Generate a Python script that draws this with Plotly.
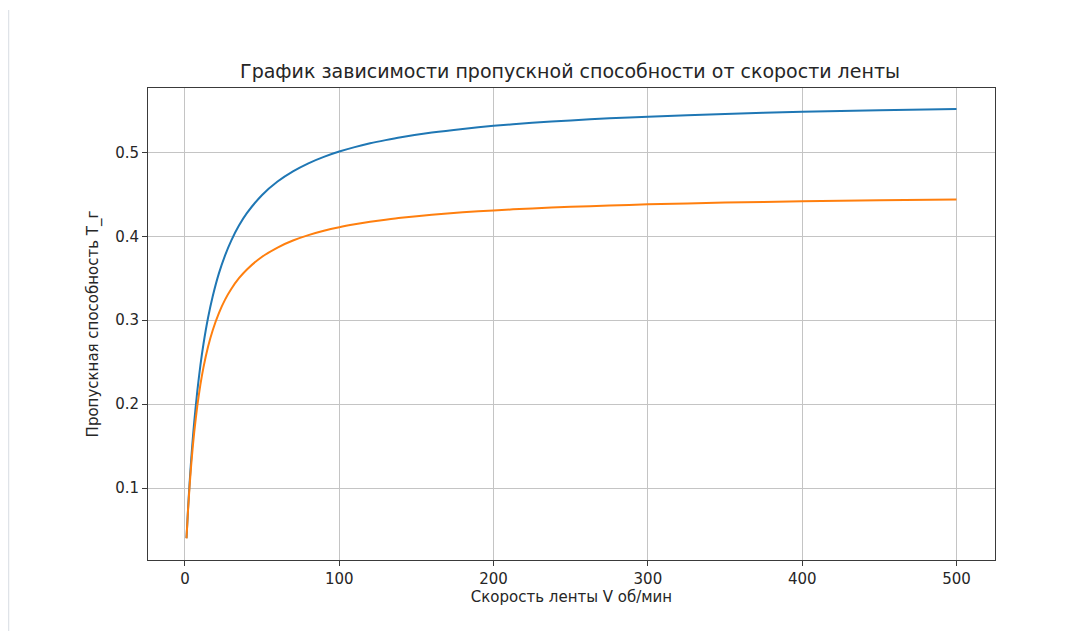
import plotly.graph_objects as go

# Belt speed V (rev/min) and throughput T_г
speed = [1, 2, 3, 4, 5, 6, 8, 10, 12, 15, 18, 22, 26, 30, 35, 40, 50, 60, 70, 80, 90,
         100, 110, 120, 130, 140, 160, 180, 200, 225, 250, 275, 300, 350, 400, 450, 500]
throughput_blue = [0.0404, 0.0755, 0.1061, 0.1332, 0.1572, 0.1787, 0.2156, 0.2461, 0.2717,
                   0.3032, 0.3286, 0.3558, 0.3773, 0.3949, 0.4127, 0.4272, 0.4492, 0.4652,
                   0.4773, 0.4869, 0.4946, 0.5009, 0.5062, 0.5107, 0.5145, 0.5179, 0.5235,
                   0.5279, 0.5315, 0.5351, 0.5380, 0.5405, 0.5425, 0.5457, 0.5482, 0.5501,
                   0.5517]
throughput_orange = [0.0401, 0.0737, 0.1022, 0.1267, 0.1480, 0.1667, 0.1980, 0.2232, 0.2438,
                     0.2686, 0.2881, 0.3085, 0.3245, 0.3372, 0.3500, 0.3602, 0.3756, 0.3866,
                     0.3949, 0.4013, 0.4065, 0.4107, 0.4142, 0.4172, 0.4197, 0.4220, 0.4256,
                     0.4285, 0.4308, 0.4332, 0.4351, 0.4366, 0.4380, 0.4401, 0.4416, 0.4429,
                     0.4439]

x_ticks = [0, 100, 200, 300, 400, 500]
y_ticks = [0.1, 0.2, 0.3, 0.4, 0.5]
y_tick_labels = ["0.1", "0.2", "0.3", "0.4", "0.5"]

title_text = "График зависимости пропускной способности от скорости ленты"
x_title = "Скорость ленты V об/мин"
y_title = "Пропускная способность T_г"

FONT = "DejaVu Sans"
W, H = 1079, 623
L, R, T, B = 140, 92, 80, 71
PW, PH = W - L - R, H - T - B

fig = go.Figure()
fig.add_trace(go.Scatter(x=speed, y=throughput_blue, mode="lines",
                         line=dict(color="#1f77b4", width=2, shape="spline", smoothing=0.6),
                         showlegend=False))
fig.add_trace(go.Scatter(x=speed, y=throughput_orange, mode="lines",
                         line=dict(color="#ff7f0e", width=2, shape="spline", smoothing=0.6),
                         showlegend=False))

axis_common = dict(
    showline=True, linecolor="#3a3a3a", linewidth=1, mirror=True,
    ticks="outside", ticklen=5, tickwidth=1, tickcolor="#3a3a3a",
    showgrid=True, gridcolor="#c4c4c4", gridwidth=1,
    zeroline=False,
    tickfont=dict(family=FONT, size=15, color="#262626"),
)

fig.update_xaxes(range=[-23.95, 524.95], tickvals=x_ticks,
                 title=dict(text=x_title, font=dict(family=FONT, size=15, color="#262626"), standoff=4),
                 **axis_common)
fig.update_yaxes(range=[0.0144, 0.5766], tickvals=y_ticks, ticktext=y_tick_labels,
                 title=dict(text=y_title, font=dict(family=FONT, size=15, color="#262626"), standoff=12),
                 **axis_common)

fig.update_layout(
    width=W, height=H,
    margin=dict(l=L, r=R, t=T, b=B),
    paper_bgcolor="white", plot_bgcolor="white",
    title=dict(text=title_text, x=(570 - 8) / W, xanchor="center", y=1 - 63 / H, yanchor="middle",
               font=dict(family=FONT, size=19, color="#262626")),
    shapes=[dict(type="line", xref="paper", yref="paper",
                 x0=(0.5 - L) / PW, x1=(0.5 - L) / PW,
                 y0=-B / PH, y1=(PH + T - 2) / PH,
                 line=dict(color="#dfe3e8", width=1.5))],
)

fig.write_html("out.html")
